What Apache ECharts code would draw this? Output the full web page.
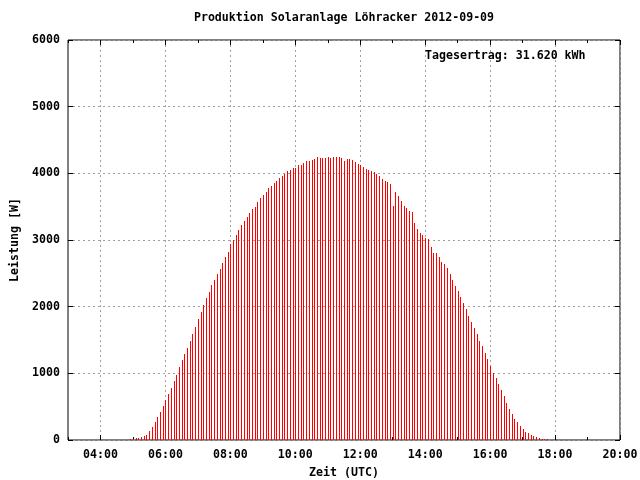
<!DOCTYPE html>
<html><head><meta charset="utf-8">
<script src="https://cdn.jsdelivr.net/npm/echarts@6/dist/echarts.min.js"></script>
<style>html,body{margin:0;padding:0;background:#fff}#c{width:640px;height:480px}</style>
</head><body><div id="c"></div>
<script>
const chartTitle = 'Produktion Solaranlage Löhracker 2012-09-09';
const annotation = 'Tagesertrag: 31.620 kWh';
const xName = 'Zeit (UTC)';
const yName = 'Leistung [W]';
const xRange = ['03:00', '20:00'];
const xTickLabels = ['04:00','06:00','08:00','10:00','12:00','14:00','16:00','18:00','20:00'];
const yTicks = [0, 1000, 2000, 3000, 4000, 5000, 6000];

const times = [
'04:55','05:00','05:05','05:10','05:15','05:20','05:25','05:30','05:35','05:40','05:45','05:50','05:55',
'06:00','06:05','06:10','06:15','06:20','06:25','06:30','06:35','06:40','06:45','06:50','06:55',
'07:00','07:05','07:10','07:15','07:20','07:25','07:30','07:35','07:40','07:45','07:50','07:55',
'08:00','08:05','08:10','08:15','08:20','08:25','08:30','08:35','08:40','08:45','08:50','08:55',
'09:00','09:05','09:10','09:15','09:20','09:25','09:30','09:35','09:40','09:45','09:50','09:55',
'10:00','10:05','10:10','10:15','10:20','10:25','10:30','10:35','10:40','10:45','10:50','10:55',
'11:00','11:05','11:10','11:15','11:20','11:25','11:30','11:35','11:40','11:45','11:50','11:55',
'12:00','12:05','12:10','12:15','12:20','12:25','12:30','12:35','12:40','12:45','12:50','12:55',
'13:00','13:05','13:10','13:15','13:20','13:25','13:30','13:35','13:40','13:45','13:50','13:55',
'14:00','14:05','14:10','14:15','14:20','14:25','14:30','14:35','14:40','14:45','14:50','14:55',
'15:00','15:05','15:10','15:15','15:20','15:25','15:30','15:35','15:40','15:45','15:50','15:55',
'16:00','16:05','16:10','16:15','16:20','16:25','16:30','16:35','16:40','16:45','16:50','16:55',
'17:00','17:05','17:10','17:15','17:20','17:25','17:30','17:35','17:40','17:45'
];
const power = [
15,20,30,30,45,60,75,135,195,270,345,420,510,
600,690,780,885,970,1095,1200,1290,1385,1485,1590,1695,
1815,1920,2025,2130,2220,2325,2400,2490,2565,2655,2745,2820,
2940,3000,3075,3150,3225,3285,3345,3405,3465,3495,3570,3630,
3675,3720,3780,3810,3855,3885,3930,3960,3990,4035,4050,4080,
4080,4125,4125,4155,4185,4185,4200,4215,4245,4230,4230,4230,
4245,4230,4245,4245,4245,4230,4185,4215,4215,4200,4170,4140,
4125,4095,4065,4050,4035,4020,3990,3960,3915,3885,3870,3840,
3510,3720,3660,3585,3510,3480,3435,3420,3255,3165,3105,3075,
3030,3015,2895,2805,2805,2745,2670,2640,2580,2490,2400,2310,
2235,2145,2055,1965,1860,1770,1680,1590,1485,1410,1305,1215,
1110,1005,935,840,750,660,555,465,390,315,270,210,
165,120,105,75,60,45,30,15,15,15
];

function toMin(s){ const p = s.split(':'); return (+p[0])*60 + (+p[1]); }
function fmt(v){ const h = Math.floor(v/60), m = Math.round(v%60); return (h<10?'0':'')+h+':'+(m<10?'0':'')+m; }

const FONT = 'DejaVu Sans Mono';
const FS = 11.6;
const xMin = toMin(xRange[0]), xMax = toMin(xRange[1]);
const majorX = xTickLabels.map(toMin);
const data = times.map((t, i) => [toMin(t), power[i]]);

const textStyle = {fontFamily: FONT, fontWeight: 'bold', fontSize: FS, color: '#000'};
const gridLine = {type: [2, 3], color: '#a0a0a0', width: 1};

function renderImpulse(params, api) {
  const top = api.coord([api.value(0), api.value(1)]);
  const base = api.coord([api.value(0), 0]);
  const x = Math.round(top[0]);
  const y = Math.round(top[1]);
  return {
    type: 'rect',
    shape: {x: x, y: y, width: 1, height: Math.round(base[1]) - y},
    style: {fill: '#ff0000'}
  };
}

const chart = echarts.init(document.getElementById('c'), null, {renderer: 'canvas'});
chart.setOption({
  animation: false,
  backgroundColor: '#fff',
  textStyle: textStyle,
  grid: {left: 68, right: 20, top: 40, bottom: 40, containLabel: false, outerBoundsMode: 'none',
         show: true, borderColor: '#000', borderWidth: 1, backgroundColor: 'transparent'},
  graphic: [
    {type: 'text', x: 344, y: 18, z: 10, style: {text: chartTitle, align: 'center', verticalAlign: 'middle', fontFamily: FONT, fontWeight: 'bold', fontSize: FS, fill: '#000'}},
    {type: 'text', x: 425, y: 56, z: 10, style: {text: annotation, align: 'left', verticalAlign: 'middle', fontFamily: FONT, fontWeight: 'bold', fontSize: FS, fill: '#000'}}
  ],
  xAxis: [
    {type: 'value', position: 'bottom', min: xMin, max: xMax, interval: 60,
     name: xName, nameLocation: 'middle', nameGap: 27, nameTextStyle: textStyle,
     axisLine: {show: false},
     axisTick: {show: true, inside: true, length: 3, lineStyle: {color: '#000'}},
     axisLabel: {show: false},
     splitLine: {show: true, lineStyle: {type: [2, 3], width: 1, color: ['rgba(0,0,0,0)', '#a0a0a0']}}},
    {type: 'value', position: 'bottom', min: xMin, max: xMax,
     axisLine: {show: false},
     axisTick: {show: true, inside: true, length: 5, customValues: majorX, lineStyle: {color: '#000'}},
     axisLabel: {show: true, customValues: majorX, margin: 9, formatter: v => fmt(v), fontFamily: FONT, fontWeight: 'bold', fontSize: FS, color: '#000'},
     splitLine: {show: false}},
    {type: 'value', position: 'top', min: xMin, max: xMax, interval: 60,
     axisLine: {show: false},
     axisTick: {show: true, inside: true, length: 3, lineStyle: {color: '#000'}},
     axisLabel: {show: false}, splitLine: {show: false}},
    {type: 'value', position: 'top', min: xMin, max: xMax,
     axisLine: {show: false},
     axisTick: {show: true, inside: true, length: 5, customValues: majorX, lineStyle: {color: '#000'}},
     axisLabel: {show: false}, splitLine: {show: false}}
  ],
  yAxis: [
    {type: 'value', position: 'left', min: yTicks[0], max: yTicks[yTicks.length-1], interval: 1000,
     name: yName, nameLocation: 'middle', nameGap: 36, nameRotate: 90, nameTextStyle: textStyle,
     axisLine: {show: false},
     axisTick: {show: true, inside: true, length: 5, lineStyle: {color: '#000'}},
     axisLabel: {show: true, margin: 8, formatter: v => String(v), fontFamily: FONT, fontWeight: 'bold', fontSize: FS, color: '#000'},
     splitLine: {show: true, lineStyle: gridLine}},
    {type: 'value', position: 'right', min: yTicks[0], max: yTicks[yTicks.length-1], interval: 1000,
     axisLine: {show: false},
     axisTick: {show: true, inside: true, length: 5, lineStyle: {color: '#000'}},
     axisLabel: {show: false}, splitLine: {show: false}}
  ],
  series: [{
    type: 'custom', xAxisIndex: 0, yAxisIndex: 0, data: data, renderItem: renderImpulse,
    encode: {x: 0, y: 1}, silent: true, z: 2
  }]
});
</script>
</body></html>
